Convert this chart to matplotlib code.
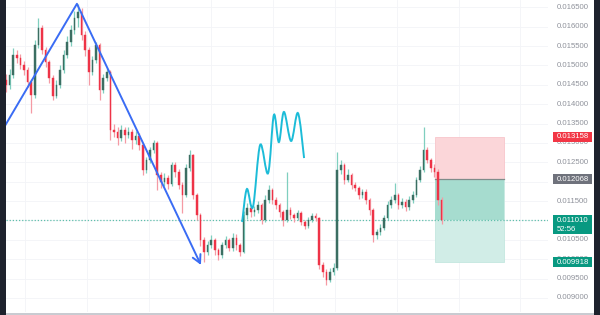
import numpy as np
import matplotlib
matplotlib.use("Agg")
import matplotlib.pyplot as plt
from matplotlib import transforms
from matplotlib.path import Path
from matplotlib.patches import PathPatch, Rectangle

# ---------------- data ----------------
first_open = 0.01463
close = [0.01450, 0.01475, 0.01527, 0.01519, 0.01501, 0.01488, 0.01457, 0.01424, 0.01553, 0.01597,
         0.01540, 0.01509, 0.01468, 0.01421, 0.01450, 0.01488, 0.01527, 0.01560, 0.01591, 0.01622,
         0.01638, 0.01579, 0.01540, 0.01483, 0.01514, 0.01553, 0.01437, 0.01468, 0.01483, 0.01333,
         0.01328, 0.01313, 0.01333, 0.01321, 0.01328, 0.01308, 0.01318, 0.01295, 0.01230, 0.01256,
         0.01282, 0.01300, 0.01217, 0.01199, 0.01210, 0.01194, 0.01243, 0.01225, 0.01192, 0.01166,
         0.01235, 0.01269, 0.01166, 0.01114, 0.01050, 0.01019, 0.01037, 0.01050, 0.01024, 0.01011,
         0.01037, 0.01050, 0.01029, 0.01055, 0.01037, 0.01019, 0.01114, 0.01132, 0.01122, 0.01127,
         0.01140, 0.01101, 0.01153, 0.01179, 0.01153, 0.01140, 0.01122, 0.01101, 0.01127, 0.01114,
         0.01106, 0.01119, 0.01096, 0.01086, 0.01101, 0.01111, 0.01106, 0.00985, 0.00967, 0.00946,
         0.00967, 0.00977, 0.01230, 0.01243, 0.01204, 0.01217, 0.01192, 0.01184, 0.01166, 0.01174,
         0.01153, 0.01127, 0.01062, 0.01070, 0.01081, 0.01106, 0.01140, 0.01153, 0.01166, 0.01140,
         0.01148, 0.01135, 0.01153, 0.01166, 0.01204, 0.01230, 0.01282, 0.01256, 0.01235, 0.01225,
         0.01153, 0.01101]
high = [0.01478, 0.01490, 0.01545, 0.01540, 0.01530, 0.01512, 0.01495, 0.01465, 0.01566, 0.01622,
        0.01605, 0.01548, 0.01515, 0.01475, 0.01462, 0.01500, 0.01540, 0.01575, 0.01605, 0.01640,
        0.01659, 0.01648, 0.01590, 0.01548, 0.01525, 0.01560, 0.01558, 0.01478, 0.01493, 0.01488,
        0.01348, 0.01340, 0.01345, 0.01342, 0.01340, 0.01335, 0.01330, 0.01325, 0.01300, 0.01265,
        0.01290, 0.01308, 0.01305, 0.01225, 0.01222, 0.01218, 0.01252, 0.01250, 0.01232, 0.01198,
        0.01245, 0.01282, 0.01272, 0.01172, 0.01120, 0.01058, 0.01048, 0.01062, 0.01055, 0.01030,
        0.01045, 0.01060, 0.01055, 0.01068, 0.01065, 0.01042, 0.01125, 0.01145, 0.01140, 0.01138,
        0.01150, 0.01145, 0.01165, 0.01192, 0.01185, 0.01160, 0.01146, 0.01128, 0.01225, 0.01135,
        0.01120, 0.01128, 0.01124, 0.01102, 0.01110, 0.01120, 0.01118, 0.01110, 0.00992, 0.00975,
        0.00978, 0.00990, 0.01277, 0.01255, 0.01248, 0.01232, 0.01222, 0.01200, 0.01190, 0.01182,
        0.01180, 0.01158, 0.01132, 0.01078, 0.01090, 0.01115, 0.01150, 0.01162, 0.01197, 0.01172,
        0.01158, 0.01155, 0.01162, 0.01175, 0.01212, 0.01240, 0.01341, 0.01290, 0.01262, 0.01245,
        0.01232, 0.01160]
low = [0.01432, 0.01440, 0.01468, 0.01505, 0.01490, 0.01475, 0.01445, 0.01377, 0.01415, 0.01545,
       0.01530, 0.01495, 0.01455, 0.01411, 0.01415, 0.01443, 0.01480, 0.01520, 0.01550, 0.01580,
       0.01600, 0.01565, 0.01525, 0.01450, 0.01475, 0.01505, 0.01411, 0.01430, 0.01460, 0.01308,
       0.01315, 0.01295, 0.01305, 0.01300, 0.01312, 0.01285, 0.01298, 0.01282, 0.01217, 0.01222,
       0.01248, 0.01275, 0.01179, 0.01185, 0.01190, 0.01180, 0.01188, 0.01212, 0.01180, 0.01119,
       0.01160, 0.01228, 0.01155, 0.01100, 0.01035, 0.00993, 0.01010, 0.01028, 0.01012, 0.00998,
       0.01003, 0.01030, 0.01020, 0.01022, 0.01025, 0.01008, 0.01015, 0.01105, 0.01110, 0.01112,
       0.01118, 0.01090, 0.01095, 0.01145, 0.01142, 0.01130, 0.01110, 0.01085, 0.01095, 0.01105,
       0.01095, 0.01100, 0.01088, 0.01078, 0.01080, 0.01095, 0.01098, 0.00975, 0.00955, 0.00933,
       0.00940, 0.00960, 0.00972, 0.01220, 0.01195, 0.01198, 0.01182, 0.01175, 0.01155, 0.01158,
       0.01142, 0.01115, 0.01044, 0.01052, 0.01062, 0.01075, 0.01100, 0.01132, 0.01145, 0.01130,
       0.01132, 0.01125, 0.01128, 0.01145, 0.01160, 0.01198, 0.01225, 0.01248, 0.01225, 0.01212,
       0.01140, 0.01092]

price_ticks = [0.0165, 0.0160, 0.0155, 0.0150, 0.0145, 0.0140, 0.0135, 0.0130, 0.0125,
               0.0120, 0.0115, 0.0110, 0.0105, 0.0100, 0.0095, 0.0090]
hidden_ticks = [0.0120, 0.0110]

# position tool
stop_price = 0.013158
entry_price = 0.012068
target_price = 0.009918
last_price = 0.011010
countdown = "52:56"
position_start, position_end = 119.2, 138.3

# drawings
zigzag_idx = [-0.3, 19.7, 53.9]
zigzag_price = [0.01344, 0.01659, 0.00990]
wave_idx = [65.6, 66.9, 68.6, 70.6, 72.8, 74.4, 75.8, 77.2, 79.2, 81.1, 82.8]
wave_price = [0.01096, 0.01181, 0.01135, 0.01295, 0.01222, 0.01372, 0.01302, 0.01380,
              0.01305, 0.01377, 0.01261]

# ---------------- figure ----------------
W, H = 600, 315
fig = plt.figure(figsize=(W / 100, H / 100), dpi=100)
fig.patch.set_facecolor("white")

ax = fig.add_axes([6 / W, 3 / H, (548 - 6) / W, 312 / H])
ax.set_facecolor("white")
y_top, y_bot = 0.016688, 0.008638
ax.set_ylim(y_bot, y_top)
ax.set_xlim(0, (548 - 6) / 3.6)
for s in ax.spines.values():
    s.set_visible(False)
ax.set_xticks([])
ax.set_yticks([])

# faint grid
for p in price_ticks:
    ax.axhline(p, color="#f3f4f7", lw=0.6, zorder=0)
for gx in np.arange(5.3, 150, 17.2):
    ax.axvline(gx, color="#f3f4f7", lw=0.6, zorder=0)

UP_BODY, UP_WICK = "#3b6e62", "#7fcfbf"
DN_BODY, DN_WICK = "#ee3347", "#f59aa4"
opens = [first_open] + close[:-1]
idx = np.arange(len(close))
for i in idx:
    o, c = opens[i], close[i]
    up = c >= o
    body = UP_BODY if up else DN_BODY
    wick = UP_WICK if up else DN_WICK
    ax.vlines(i, low[i], high[i], color=wick, lw=0.9, zorder=3)
    ax.bar(i, max(abs(c - o), 0.000012), bottom=min(o, c), width=0.42,
           color=body, edgecolor=body, lw=0.3, zorder=4)

# position tool boxes
pw = position_end - position_start
ax.add_patch(Rectangle((position_start, entry_price), pw, stop_price - entry_price,
                       facecolor="#fbd6d9", edgecolor="#f8c6cb", lw=0.6, zorder=1))
ax.add_patch(Rectangle((position_start, target_price), pw, entry_price - target_price,
                       facecolor="#d1ede7", edgecolor="#c4e7df", lw=0.6, zorder=1))
ax.add_patch(Rectangle((position_start, last_price), pw, entry_price - last_price,
                       facecolor="#a6dccf", edgecolor="none", zorder=1.5))
ax.plot([position_start, position_end], [entry_price, entry_price], color="#7f8c8a", lw=0.9, zorder=2)

# last price dotted line
ax.axhline(last_price, color="#5fbfab", lw=0.9, ls=(0, (1, 1.5)), zorder=2)

# zigzag with arrow head
ax.plot(zigzag_idx, zigzag_price, color="#3a6cf4", lw=1.4, zorder=5, solid_capstyle="round")
tip = ax.transData.transform((zigzag_idx[-1], zigzag_price[-1]))
prev = ax.transData.transform((zigzag_idx[-2], zigzag_price[-2]))
d = (prev - tip) / np.hypot(*(prev - tip))
for ang in (np.deg2rad(28), -np.deg2rad(28)):
    rot = np.array([[np.cos(ang), -np.sin(ang)], [np.sin(ang), np.cos(ang)]])
    arm = tip + rot @ d * 9
    pts = ax.transData.inverted().transform([tip, arm])
    ax.plot(pts[:, 0], pts[:, 1], color="#3a6cf4", lw=1.4, zorder=5, solid_capstyle="round")

# smooth hand-drawn wave (Catmull-Rom as cubic Bezier segments)
pts = np.column_stack([wave_idx, wave_price])
pix = ax.transData.transform(pts)
verts = [pix[0]]
codes = [Path.MOVETO]
for k in range(len(pix) - 1):
    p0 = pix[k - 1] if k > 0 else pix[k]
    p1, p2 = pix[k], pix[k + 1]
    p3 = pix[k + 2] if k + 2 < len(pix) else pix[k + 1]
    c1 = p1 + (p2 - p0) / 6
    c2 = p2 - (p3 - p1) / 6
    verts += [c1, c2, p2]
    codes += [Path.CURVE4] * 3
verts = ax.transData.inverted().transform(np.array(verts))
ax.add_patch(PathPatch(Path(verts, codes), facecolor="none", edgecolor="#1cbcd8", lw=1.4, zorder=5))

# ---------------- price scale ----------------
trans = transforms.blended_transform_factory(fig.transFigure, ax.transData)
font = dict(family=["Liberation Sans", "DejaVu Sans"], fontsize=5.6)
for p in price_ticks:
    if p in hidden_ticks:
        continue
    fig.text(557 / W, p, f"{p:.6f}", color="#8f929b", va="center", ha="left",
             transform=trans, zorder=3, **font)

px_per_price = 312 / (y_top - y_bot)


def badge(price, color, text, sub=None):
    h = 10 / px_per_price
    top = price + h / 2
    hh = h * (1.9 if sub else 1)
    fig.patches.append(Rectangle((553 / W, top - hh), 39 / W, hh, transform=trans,
                                 facecolor=color, edgecolor="none", zorder=5))
    fig.text(557 / W, price, text, color="white", va="center", ha="left",
             transform=trans, zorder=6, **font)
    if sub:
        fig.text(557 / W, price - 9 / px_per_price, sub, color="white", va="center",
                 ha="left", transform=trans, zorder=6, **font)


badge(stop_price, "#f23645", f"{stop_price:.6f}")
badge(entry_price, "#6f727c", f"{entry_price:.6f}")
badge(last_price, "#089981", f"{last_price:.6f}", countdown)
badge(target_price, "#089981", f"{target_price:.6f}")

# frame: dark side bands and bottom line
fig.patches.append(Rectangle((0, 0), 6 / W, 1, transform=fig.transFigure,
                             facecolor="#1e222d", edgecolor="none", zorder=10))
fig.patches.append(Rectangle((594 / W, 0), 6 / W, 1, transform=fig.transFigure,
                             facecolor="#1e222d", edgecolor="none", zorder=10))
fig.patches.append(Rectangle((6 / W, 0), 588 / W, 2.5 / H, transform=fig.transFigure,
                             facecolor="#c9cbd1", edgecolor="none", zorder=10))

fig.savefig("out.png", dpi=100, facecolor="white")
